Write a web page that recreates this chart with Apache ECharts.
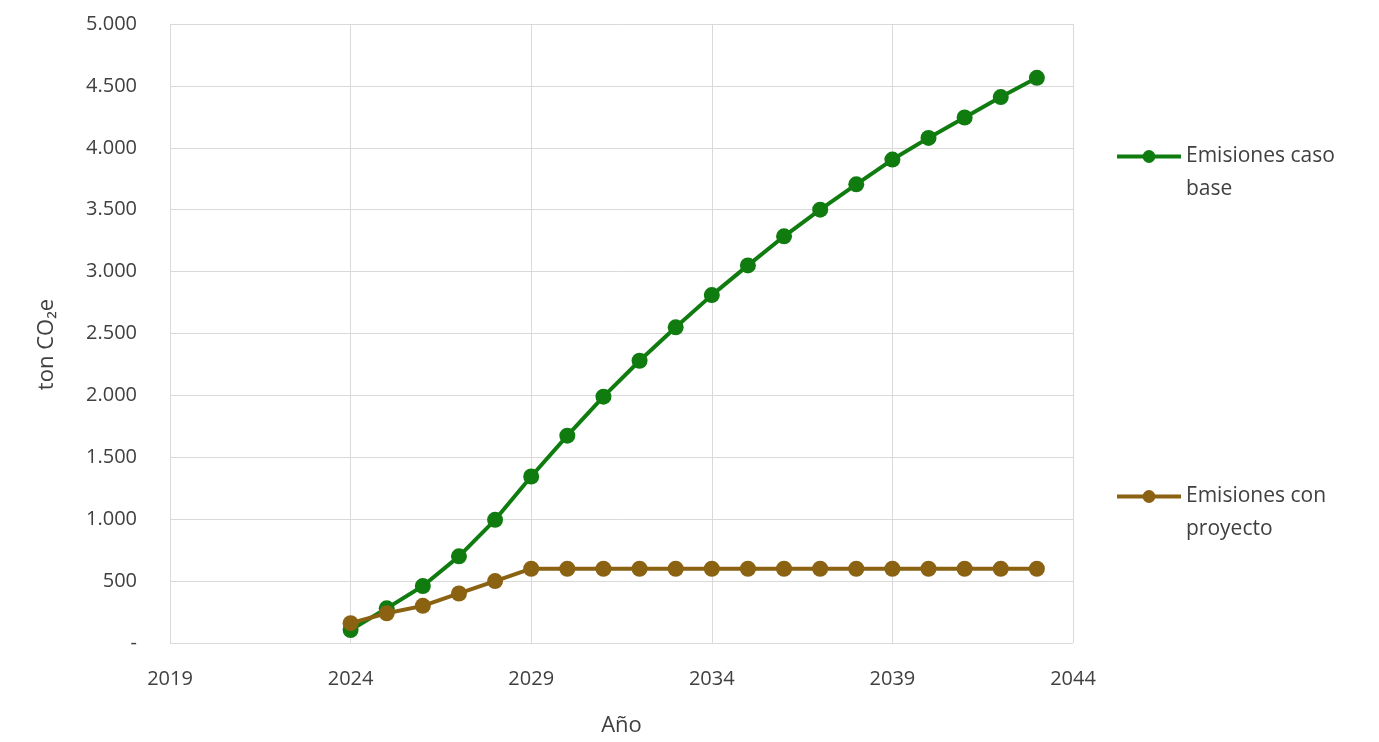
<!DOCTYPE html>
<html>
<head>
<meta charset="utf-8">
<script src="https://cdn.jsdelivr.net/npm/echarts@6/dist/echarts.min.js"></script>
<style>
html,body{margin:0;padding:0;background:#fff;}
#chart{width:1379px;height:742px;}
</style>
</head>
<body>
<div id="chart"></div>
<script>
const years = [2024,2025,2026,2027,2028,2029,2030,2031,2032,2033,2034,2035,2036,2037,2038,2039,2040,2041,2042,2043];
const casoBase = [105,280,460,700,995,1345,1675,1990,2280,2550,2810,3050,3285,3500,3705,3905,4080,4245,4410,4565];
const conProyecto = [160,240,300,400,500,600,600,600,600,600,600,600,600,600,600,600,600,600,600,600];
const seriesNames = ['Emisiones caso\nbase','Emisiones con\nproyecto'];
const xTitle = 'Año';
const yTitle = 'ton CO₂e';

const FONT = '"Open Sans", "Noto Sans", sans-serif';
const txt = '#404040';
const green = '#107c10';
const brown = '#8a6212';

function pairs(v){ return years.map((y,i)=>[y,v[i]]); }
function fmt(v){
  if (v === 0) return '-';
  return String(v).replace(/\B(?=(\d{3})+(?!\d))/g,'.');
}

const legendBase = {orient:'vertical',left:1110,itemWidth:64,itemHeight:16,itemGap:0,
  lineStyle:{width:4},
  formatter:n=>'\n'+n,
  textStyle:{fontFamily:FONT,fontSize:21,color:txt,lineHeight:33}};

const chart = echarts.init(document.getElementById('chart'));
chart.setOption({
  animation:false,
  backgroundColor:'#fff',
  grid:{left:170,right:306,top:24,bottom:97,containLabel:false},
  legend:[
    Object.assign({}, legendBase, {data:[seriesNames[0]],top:102}),
    Object.assign({}, legendBase, {data:[seriesNames[1]],top:442})
  ],
  xAxis:{
    type:'value',min:2019,max:2044,interval:5,
    name:xTitle,nameLocation:'middle',nameGap:72,
    nameTextStyle:{fontFamily:FONT,fontSize:22,color:txt},
    axisLine:{show:false},axisTick:{show:false},
    axisLabel:{fontFamily:FONT,fontSize:20,color:txt,margin:26,showMinLabel:true,showMaxLabel:true,formatter:v=>String(v)},
    splitLine:{show:true,lineStyle:{color:'#d9d9d9',width:1}}
  },
  yAxis:{
    type:'value',min:0,max:5000,interval:500,
    name:yTitle,nameLocation:'middle',nameGap:112,
    nameTextStyle:{fontFamily:FONT,fontSize:22,color:txt,padding:[0,22,0,0]},
    axisLine:{show:true,lineStyle:{color:'#d9d9d9'}},axisTick:{show:false},
    axisLabel:{fontFamily:FONT,fontSize:20,color:txt,margin:33,formatter:fmt},
    splitLine:{show:true,lineStyle:{color:'#d9d9d9',width:1}}
  },
  series:[
    {name:seriesNames[0],type:'line',data:pairs(casoBase),symbol:'circle',symbolSize:16,
     lineStyle:{color:green,width:4},itemStyle:{color:green},z:2},
    {name:seriesNames[1],type:'line',data:pairs(conProyecto),symbol:'circle',symbolSize:16,
     lineStyle:{color:brown,width:4},itemStyle:{color:brown},z:3}
  ]
});
</script>
</body>
</html>
